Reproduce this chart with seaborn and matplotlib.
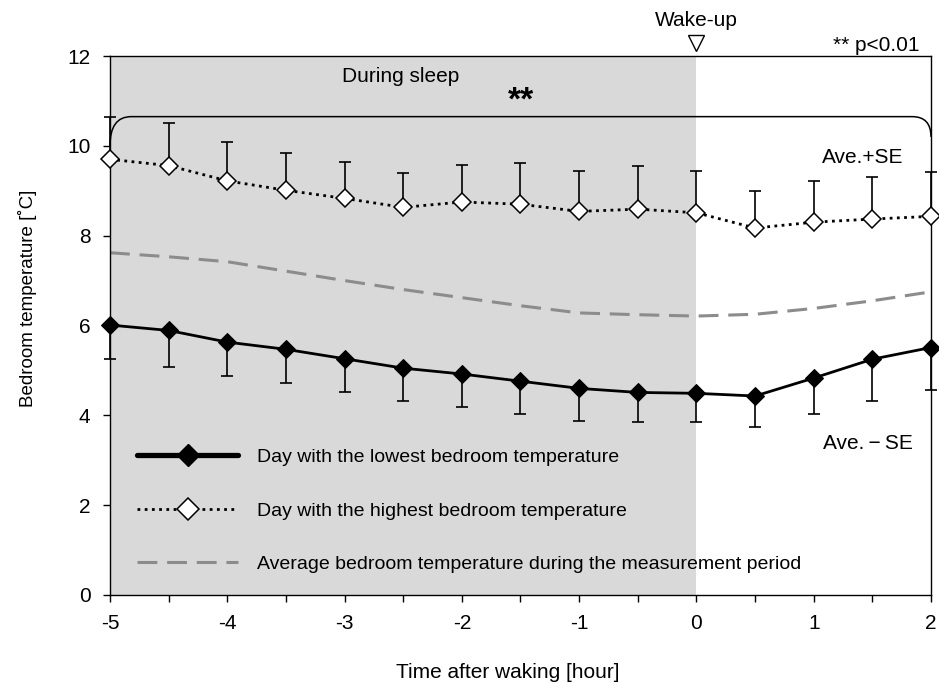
import matplotlib
matplotlib.use("Agg")
import matplotlib.pyplot as plt
from matplotlib.lines import Line2D
from matplotlib.path import Path
from matplotlib.patches import PathPatch
import pandas as pd
import seaborn as sns

# Hours relative to waking
hours = [-5.0, -4.5, -4.0, -3.5, -3.0, -2.5, -2.0, -1.5, -1.0, -0.5, 0.0, 0.5, 1.0, 1.5, 2.0]

# Day with the highest bedroom temperature: mean and standard error
high_mean = [9.70, 9.56, 9.22, 9.01, 8.83, 8.63, 8.75, 8.70, 8.54, 8.59, 8.51, 8.17, 8.30, 8.37, 8.43]
high_se = [0.95, 0.95, 0.87, 0.83, 0.81, 0.77, 0.83, 0.91, 0.91, 0.96, 0.94, 0.83, 0.92, 0.94, 0.99]

# Day with the lowest bedroom temperature: mean and standard error
low_mean = [6.01, 5.89, 5.63, 5.47, 5.26, 5.05, 4.92, 4.76, 4.60, 4.51, 4.49, 4.43, 4.83, 5.25, 5.51]
low_se = [0.76, 0.81, 0.75, 0.75, 0.75, 0.72, 0.73, 0.73, 0.72, 0.66, 0.64, 0.69, 0.81, 0.92, 0.94]

# Average bedroom temperature over the whole measurement period
avg_temp = [7.62, 7.53, 7.42, 7.21, 7.00, 6.80, 6.62, 6.44, 6.28, 6.24, 6.21, 6.25, 6.38, 6.55, 6.75]

legend_labels = [
    "Day with the lowest bedroom temperature",
    "Day with the highest bedroom temperature",
    "Average bedroom temperature during the measurement period",
]

sns.set_theme(style="ticks")
plt.rcParams["font.family"] = ["Liberation Sans", "Noto Sans CJK JP", "DejaVu Sans"]
plt.rcParams["axes.unicode_minus"] = False
plt.rcParams["text.color"] = "black"
plt.rcParams["axes.labelcolor"] = "black"
plt.rcParams["xtick.color"] = "black"
plt.rcParams["ytick.color"] = "black"
plt.rcParams["xtick.labelcolor"] = "black"
plt.rcParams["ytick.labelcolor"] = "black"

df = pd.DataFrame({"hour": hours, "high": high_mean, "low": low_mean, "avg": avg_temp})

fig = plt.figure(figsize=(9.39, 6.83), dpi=100)
ax = fig.add_axes([110 / 939, (683 - 595) / 683, 821 / 939, 539 / 683])

# Sleep period shading
ax.axvspan(-5, 0, color="#d9d9d9", lw=0, zorder=0)

# Average temperature (dashed grey)
sns.lineplot(data=df, x="hour", y="avg", ax=ax, color="#8c8c8c", lw=2.2,
             linestyle=(0, (6.5, 3.2)), zorder=2)

# Error bars: upward for the warm day, downward for the cold day
ax.errorbar(hours, high_mean, yerr=[[0] * len(hours), high_se], fmt="none",
            ecolor="black", elinewidth=1.2, capsize=4.5, capthick=1.2, zorder=3,
            clip_on=False)
ax.errorbar(hours, low_mean, yerr=[low_se, [0] * len(hours)], fmt="none",
            ecolor="black", elinewidth=1.2, capsize=4.5, capthick=1.2, zorder=3,
            clip_on=False)

# Highest-temperature day (dotted, open diamonds)
sns.lineplot(data=df, x="hour", y="high", ax=ax, color="black", lw=2.0,
             linestyle=(0, (1, 1.6)), marker="D", markersize=9,
             markerfacecolor="white", markeredgecolor="black", markeredgewidth=1.1,
             zorder=4, clip_on=False)

# Lowest-temperature day (solid, filled diamonds)
sns.lineplot(data=df, x="hour", y="low", ax=ax, color="black", lw=2.0,
             marker="D", markersize=9, markerfacecolor="black",
             markeredgecolor="black", zorder=4, clip_on=False)

ax.set_xlim(-5, 2)
ax.set_ylim(0, 12)
ax.set_xticks([-5, -4, -3, -2, -1, 0, 1, 2])
ax.set_xticks([-4.5, -3.5, -2.5, -1.5, -0.5, 0.5, 1.5], minor=True)
ax.set_yticks([0, 2, 4, 6, 8, 10, 12])
ax.set_xticklabels(["-5", "-4", "-3", "-2", "-1", "0", "1", "2"])
ax.tick_params(axis="both", which="major", direction="out", length=5, width=1,
               labelsize=15, pad=9, color="black", labelcolor="black")
ax.tick_params(axis="x", which="minor", direction="out", length=5, width=1, color="black")
for side in ["left", "right", "top", "bottom"]:
    ax.spines[side].set_visible(True)
    ax.spines[side].set_color("black")
    ax.spines[side].set_linewidth(1.0)

ax.set_xlabel("Time after waking [hour]", fontsize=15, color="black")
ax.set_ylabel("Bedroom temperature [˚C]", fontsize=13.5, color="black")
ax.xaxis.set_label_coords(0.484, -0.126)
ax.yaxis.set_label_coords(-0.089, 0.55)

# Significance bracket spanning the whole period
verts = [(-5.0, 10.0), (-5.0, 10.65), (-4.82, 10.65),
         (1.84, 10.65), (2.0, 10.65), (2.0, 10.2)]
codes = [Path.MOVETO, Path.CURVE3, Path.CURVE3,
         Path.LINETO, Path.CURVE3, Path.CURVE3]
ax.add_patch(PathPatch(Path(verts, codes), fill=False, ec="black", lw=1.1,
                       zorder=5, clip_on=False))
ax.text(-1.5, 11.0, "**", fontsize=24, fontweight="bold", ha="center",
        va="center", zorder=6)
ax.text(-2.52, 11.55, "During sleep", fontsize=15, ha="center", va="center")

# Wake-up marker above the axes
ax.text(0.0, 12.8, "Wake-up", fontsize=15, ha="center", va="center", clip_on=False)
ax.plot([0.0], [12.3], marker="v", markersize=12, markerfacecolor="white",
        markeredgecolor="black", markeredgewidth=1.0, clip_on=False, zorder=6)
ax.text(1.9, 12.24, "** p<0.01", fontsize=15, ha="right", va="center", clip_on=False)

ax.text(1.42, 9.75, "Ave.+SE", fontsize=15, ha="center", va="center")
ax.text(1.46, 3.38, "Ave.\u2009\u2212\u2009SE", fontsize=15, ha="center", va="center")

# Legend
handles = [
    Line2D([], [], color="black", lw=3.8, marker="D", markersize=11,
           markerfacecolor="black", markeredgecolor="black"),
    Line2D([], [], color="black", lw=2.0, linestyle=(0, (1, 1.6)), marker="D",
           markersize=11, markerfacecolor="white", markeredgecolor="black",
           markeredgewidth=1.1),
    Line2D([], [], color="#8c8c8c", lw=2.2, linestyle=(0, (6.5, 3.2))),
]
leg = ax.legend(handles, legend_labels, loc="upper left",
                bbox_to_anchor=(0.033, 0.272), frameon=False, fontsize=14,
                handlelength=5.2, handletextpad=0.95, labelspacing=1.85,
                borderpad=0, borderaxespad=0)
for t in leg.get_texts():
    t.set_color("black")

fig.savefig("out.png", dpi=100)
